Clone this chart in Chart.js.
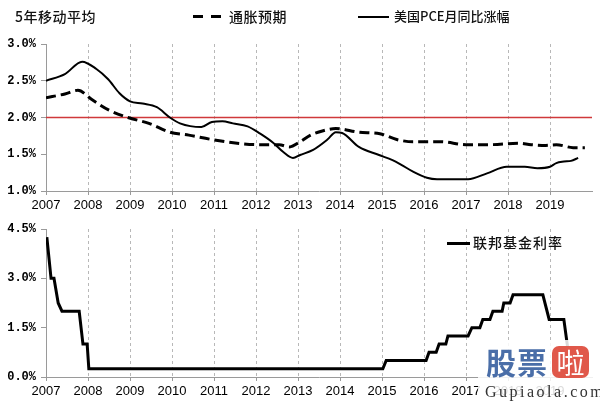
<!DOCTYPE html>
<html>
<head>
<meta charset="utf-8">
<script src="https://cdn.jsdelivr.net/npm/chart.js@4.4.1/dist/chart.umd.min.js"></script>
<style>
  body { margin: 0; background: #fff; }
  #wrap { position: relative; width: 600px; height: 403px; overflow: hidden; background: #fff;
          font-family: "Noto Sans CJK SC", sans-serif; color: #111; }
  #wrap canvas { position: absolute; left: 0; }
  .lbl { position: absolute; white-space: nowrap; line-height: 1; }
  .smp { position: absolute; background: #000; }
</style>
</head>
<body>
<div id="wrap">
  <canvas id="topChart" width="600" height="215" style="top:0"></canvas>
  <canvas id="botChart" width="600" height="188" style="top:215px"></canvas>

  <!-- 凡例 -->
  <div class="lbl" style="left:15px;top:9px;font-size:14px;font-weight:500;letter-spacing:0.5px">5年移动平均</div>
  <div class="smp" style="left:193px;top:15px;width:10px;height:3px"></div>
  <div class="smp" style="left:211px;top:15px;width:10px;height:3px"></div>
  <div class="lbl" style="left:229px;top:9px;font-size:14px;font-weight:500;letter-spacing:0.5px">通胀预期</div>
  <div class="smp" style="left:358px;top:16px;width:31px;height:2px"></div>
  <div class="lbl" style="left:394px;top:9px;font-size:13px;font-weight:500">美国PCE月同比涨幅</div>
  <div class="smp" style="left:447px;top:242px;width:23px;height:3px"></div>
  <div class="lbl" style="left:473px;top:235px;font-size:14px;font-weight:500;letter-spacing:1px">联邦基金利率</div>

  <!-- ウォーターマーク -->
  <div class="lbl" style="left:478px;top:340px;width:122px;height:63px;background:rgba(255,255,255,0.85)"></div>
  <div class="lbl" style="left:486px;top:346px;font-size:30px;font-weight:bold;color:#4a6ea8;letter-spacing:1px">股票</div>
  <div class="lbl" style="left:552px;top:346px;width:37px;height:32px;background:#e0584a;border-radius:7px;color:#fff;font-size:28px;text-align:center;line-height:32px">啦</div>
  <div class="lbl" style="left:485px;top:384px;height:16px;font-family:'Liberation Serif',serif;font-size:16px;line-height:16px;color:#333;letter-spacing:2.5px">Gupiaola.com</div>
</div>

<script>
// ========== データ ==========
const yearTicks = [2007, 2008, 2009, 2010, 2011, 2012, 2013, 2014, 2015, 2016, 2017, 2018, 2019, 2020];
const topTicks = [1.0, 1.5, 2.0, 2.5, 3.0];
const botTicks = [0, 1.5, 3.0, 4.5];

// 通胀预期（5年移动平均）
const expectYears = [2007.00, 2007.45, 2007.76, 2008.10, 2008.50, 2008.95, 2009.45, 2009.95, 2010.40, 2010.95,
  2011.55, 2012.10, 2012.55, 2012.80, 2013.05, 2013.30, 2013.60, 2013.90, 2014.45, 2014.95,
  2015.35, 2015.75, 2016.40, 2017.00, 2017.55, 2018.25, 2018.55, 2018.90, 2019.15, 2019.55, 2019.83];
const expectValues = [2.27, 2.32, 2.37, 2.24, 2.10, 2.00, 1.92, 1.80, 1.76, 1.70,
  1.65, 1.63, 1.63, 1.60, 1.67, 1.76, 1.82, 1.85, 1.80, 1.78,
  1.70, 1.67, 1.67, 1.63, 1.63, 1.65, 1.63, 1.62, 1.63, 1.59, 1.59];

// 美国PCE月同比涨幅（5年移动平均）
const pceYears = [2007.00, 2007.45, 2007.86, 2008.20, 2008.48, 2008.75, 2009.00, 2009.30, 2009.64, 2009.95,
  2010.19, 2010.70, 2010.95, 2011.20, 2011.45, 2011.80, 2012.10, 2012.40, 2012.65, 2012.88,
  2013.05, 2013.36, 2013.70, 2013.90, 2014.05, 2014.45, 2014.93, 2015.25, 2015.45, 2015.75,
  2016.07, 2016.31, 2017.05, 2017.50, 2017.97, 2018.40, 2018.70, 2019.00, 2019.15, 2019.33,
  2019.50, 2019.67];
const pceValues = [2.50, 2.59, 2.76, 2.66, 2.52, 2.33, 2.22, 2.19, 2.14, 2.00,
  1.92, 1.87, 1.94, 1.95, 1.92, 1.88, 1.78, 1.66, 1.53, 1.45,
  1.49, 1.56, 1.70, 1.80, 1.79, 1.60, 1.49, 1.42, 1.36, 1.26,
  1.18, 1.16, 1.16, 1.24, 1.33, 1.33, 1.31, 1.33, 1.38, 1.40,
  1.41, 1.45];

// 2%目标线
const targetYears = [2007, 2020];
const targetValues = [2.0, 2.0];

// 联邦基金利率
const fedYears = [2007.02, 2007.12, 2007.19, 2007.29, 2007.38, 2007.79, 2007.88, 2007.98, 2008.02, 2015.02,
  2015.10, 2016.05, 2016.12, 2016.29, 2016.36, 2016.52, 2016.57, 2017.05, 2017.14, 2017.33,
  2017.40, 2017.57, 2017.64, 2017.86, 2017.90, 2018.05, 2018.12, 2018.83, 2018.98, 2019.33,
  2019.42];
const fedValues = [4.25, 3.00, 3.00, 2.25, 2.00, 2.00, 1.00, 1.00, 0.25, 0.25,
  0.50, 0.50, 0.75, 0.75, 1.00, 1.00, 1.25, 1.25, 1.50, 1.50,
  1.75, 1.75, 2.00, 2.00, 2.25, 2.25, 2.50, 2.50, 1.75, 1.75,
  0.90];

// ========== 共通設定 ==========
const AXIS_COLOR = "#9a9a9a";
const GRID_COLOR = "#b8b8b8";

function toPoints(xs, ys) {
  return xs.map((x, i) => ({ x: x, y: ys[i] }));
}

function makeXScale(axisHeight) {
  return {
    type: "linear",
    min: 2007,
    max: 2020,
    afterBuildTicks: s => { s.ticks = yearTicks.map(v => ({ value: v })); },
    afterFit: s => { s.height = axisHeight; },
    ticks: {
      autoSkip: false,
      maxRotation: 0,
      padding: 3,
      color: "#000",
      font: { family: "Liberation Sans", size: 13 },
      callback: v => (v === 2020 ? "" : String(v))
    },
    grid: {
      color: c => (c.tick && (c.tick.value === 2007 || c.tick.value === 2020)) ? "rgba(0,0,0,0)" : GRID_COLOR,
      tickLength: 4,
      tickColor: c => (c.tick && c.tick.value === 2020) ? "rgba(0,0,0,0)" : AXIS_COLOR
    },
    border: { color: AXIS_COLOR, dash: [3, 3] }
  };
}

function makeYScale(min, max, ticks) {
  return {
    min: min,
    max: max,
    afterBuildTicks: s => { s.ticks = ticks.map(v => ({ value: v })); },
    afterFit: s => { s.width = 46; },
    ticks: {
      padding: 5,
      color: "#000",
      font: { family: "Liberation Mono", size: 12, weight: "bold" },
      callback: v => v.toFixed(1) + "%"
    },
    grid: { drawOnChartArea: false, tickLength: 5, color: AXIS_COLOR },
    border: { color: AXIS_COLOR }
  };
}

const basePlugins = { legend: { display: false }, tooltip: { enabled: false } };

// ========== 上段：5年移動平均 ==========
new Chart(document.getElementById("topChart").getContext("2d"), {
  type: "line",
  data: {
    datasets: [
      {
        label: "通胀预期",
        data: toPoints(expectYears, expectValues),
        borderColor: "#000",
        borderWidth: 3,
        borderDash: [10, 5],
        pointRadius: 0,
        cubicInterpolationMode: "monotone"
      },
      {
        label: "美国PCE月同比涨幅",
        data: toPoints(pceYears, pceValues),
        borderColor: "#000",
        borderWidth: 2,
        pointRadius: 0,
        cubicInterpolationMode: "monotone"
      },
      {
        label: "2%",
        data: toPoints(targetYears, targetValues),
        borderColor: "#d0393b",
        borderWidth: 1.5,
        pointRadius: 0
      }
    ]
  },
  options: {
    responsive: false,
    animation: false,
    devicePixelRatio: 1,
    layout: { padding: { top: 44, right: 8, bottom: 0, left: 0 } },
    plugins: basePlugins,
    scales: {
      x: makeXScale(24),
      y: makeYScale(1, 3, topTicks)
    }
  }
});

// ========== 下段：联邦基金利率 ==========
new Chart(document.getElementById("botChart").getContext("2d"), {
  type: "line",
  data: {
    datasets: [
      {
        label: "联邦基金利率",
        data: toPoints(fedYears, fedValues),
        borderColor: "#000",
        borderWidth: 3,
        pointRadius: 0,
        tension: 0
      }
    ]
  },
  options: {
    responsive: false,
    animation: false,
    devicePixelRatio: 1,
    layout: { padding: { top: 14, right: 8, bottom: 0, left: 0 } },
    plugins: basePlugins,
    scales: {
      x: makeXScale(26),
      y: makeYScale(0, 4.5, botTicks)
    }
  }
});
</script>
</body>
</html>
